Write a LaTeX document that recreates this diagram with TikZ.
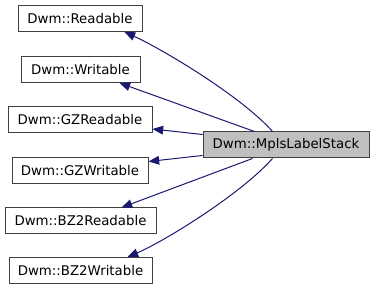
\documentclass[tikz,border=0pt]{standalone}
\usepackage{fontspec}
\setmainfont{DejaVu Sans}
\usetikzlibrary{arrows.meta,calc}
\definecolor{edgeblue}{HTML}{191970}
\definecolor{boxborder}{HTML}{404040}
\definecolor{curfill}{HTML}{BFBFBF}
\begin{document}
\begin{tikzpicture}[x=0.75pt,y=-0.75pt,
  box/.style={draw=boxborder, fill=white, line width=0.75pt, inner sep=0pt,
    minimum height={26*0.75pt}, font=\fontsize{10pt}{12pt}\selectfont},
  cur/.style={box, fill=curfill},
  inh/.style={draw=edgeblue, line width=0.75pt, -{Triangle[length=8pt,width=6.5pt]}}]
\useasboundingbox (0,0) rectangle (375,291);
\node[box, minimum width={124*0.75pt}] (r)   at (80,18.5)  {Dwm::Readable};
\node[box, minimum width={119*0.75pt}] (w)   at (80.5,69.5) {Dwm::Writable};
\node[box, minimum width={144*0.75pt}] (gzr) at (80,120)   {Dwm::GZReadable};
\node[box, minimum width={136*0.75pt}] (gzw) at (80,170.5) {Dwm::GZWritable};
\node[box, minimum width={151*0.75pt}] (bzr) at (80.5,221) {Dwm::BZ2Readable};
\node[box, minimum width={143*0.75pt}] (bzw) at (80.5,270.5) {Dwm::BZ2Writable};
\node[cur, minimum width={166*0.75pt}] (m)   at (286,145)  {Dwm::MplsLabelStack};

\draw[inh] ($(m.north west)+(70,0)$) .. controls (240,95) and (160,48) .. ($(r.south west)+(107,0)$);
\draw[inh] ($(m.north west)+(52,0)$) -- ($(w.south west)+(99,0)$);
\draw[inh] ($(m.north west)+(0,3)$) -- ($(gzr.east)+(0,9)$);
\draw[inh] ($(m.south west)+(0,-3)$) -- ($(gzw.east)+(0,-9)$);
\draw[inh] ($(m.south west)+(50,0)$) -- ($(bzr.north west)+(117,0)$);
\draw[inh] ($(m.south west)+(70,0)$) .. controls (240,195) and (163,242) .. ($(bzw.north west)+(119,0)$);
\end{tikzpicture}
\end{document}
